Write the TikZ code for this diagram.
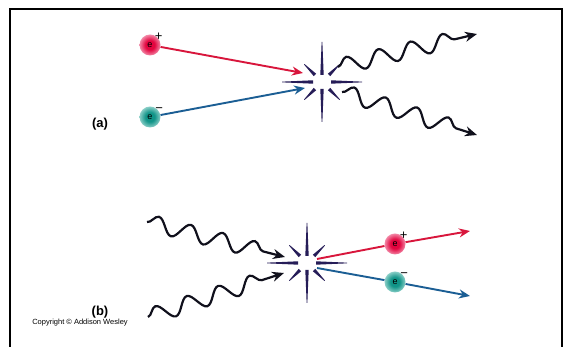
\documentclass[tikz,border=0pt]{standalone}
\usepackage{fontspec}
\setmainfont{Liberation Sans}
\usetikzlibrary{arrows.meta,decorations.pathmorphing}

\definecolor{posred}{HTML}{E3053F}
\definecolor{posglow}{HTML}{F5A3BC}
\definecolor{negteal}{HTML}{119488}
\definecolor{negglow}{HTML}{A3DAD4}
\definecolor{linered}{HTML}{D8163C}
\definecolor{lineblue}{HTML}{1B5E94}
\definecolor{burstblue}{HTML}{261D58}
\definecolor{photonblack}{HTML}{10101C}

\pgfdeclareradialshading{posball}{\pgfpoint{0bp}{0bp}}{color(0bp)=(posred); color(11bp)=(posred); color(28bp)=(posglow); color(44bp)=(white); color(50bp)=(white)}
\pgfdeclareradialshading{negball}{\pgfpoint{0bp}{0bp}}{color(0bp)=(negteal); color(11bp)=(negteal); color(28bp)=(negglow); color(44bp)=(white); color(50bp)=(white)}

\newcommand{\burst}[1]{%
  \foreach \ang/\rin/\rout in {0/9/40, 90/7/40, 180/9/40, 270/7/40, 45/10/25, 135/10/25, 225/10/25, 315/10/25}
    \fill[burstblue, shift={(#1)}, rotate=\ang] (\rin,-1.7) -- (\rout,-0.35) -- (\rout,0.35) -- (\rin,1.7) -- cycle;
}

\tikzset{
  particle/.style={circle, minimum size=21pt, inner sep=0pt, font=\fontsize{9}{9}\selectfont},
  positron/.style={particle, shading=posball, label={[inner sep=0pt, xshift=-3pt, yshift=-3pt, font=\fontsize{13}{13}\selectfont]45:+}},
  electron/.style={particle, shading=negball, label={[inner sep=0pt, xshift=-3pt, yshift=-3pt, font=\fontsize{13}{13}\selectfont]40:−}},
  eplus/.style={linered, line width=1.9pt, -{Stealth[length=11pt,width=9pt]}},
  eminus/.style={lineblue, line width=1.9pt, -{Stealth[length=11pt,width=9pt]}},
  photon/.style={photonblack, line width=2.2pt, -{Stealth[length=12pt,width=10pt]},
    decorate, decoration={snake, amplitude=8pt, segment length=33pt, post length=11pt}},
  tag/.style={font=\bfseries\fontsize{13}{13}\selectfont},
}

\begin{document}
\begin{tikzpicture}[x=1pt, y=1pt]
\useasboundingbox (0,0) rectangle (563,347);
\draw[line width=2pt] (10,0) -- (10,338) -- (562,338) -- (562,0);

% annihilation
\burst{322,265}
\node[positron] (ep1) at (150,302) {e};
\node[electron] (em1) at (150,230) {e};
\coordinate (inA1) at (303,274);
\coordinate (inA2) at (305,259);
\coordinate (gA1) at (338,280);
\coordinate (gA1end) at (477,313);
\coordinate (gA2) at (342,255);
\coordinate (gA2end) at (477,212);
\draw[eplus] (ep1) -- (inA1);
\draw[eminus] (em1) -- (inA2);
\draw[photon] (gA1) -- (gA1end);
\draw[photon] (gA2) -- (gA2end);
\node[tag] (labA) at (100,223) {(a)};

% pair production
\burst{307,84}
\coordinate (gB1) at (147,125);
\coordinate (gB1end) at (285,90);
\coordinate (gB2) at (148,30);
\coordinate (gB2end) at (284,74);
\coordinate (outB1) at (317,88);
\coordinate (endB1) at (470,116);
\coordinate (outB2) at (317,79);
\coordinate (endB2) at (470,51);
\node[positron] (ep2) at (395,103) {e};
\node[electron] (em2) at (395,65) {e};
\draw[photon] (gB1) -- (gB1end);
\draw[photon] (gB2) -- (gB2end);
\draw[eplus] (outB1) -- (ep2) -- (endB1);
\draw[eminus] (outB2) -- (em2) -- (endB2);
\node[tag] (labB) at (100,35) {(b)};

\node[font=\fontsize{7.5}{7.5}\selectfont] (copy) at (80,24) {Copyright © Addison Wesley};
\end{tikzpicture}
\end{document}
